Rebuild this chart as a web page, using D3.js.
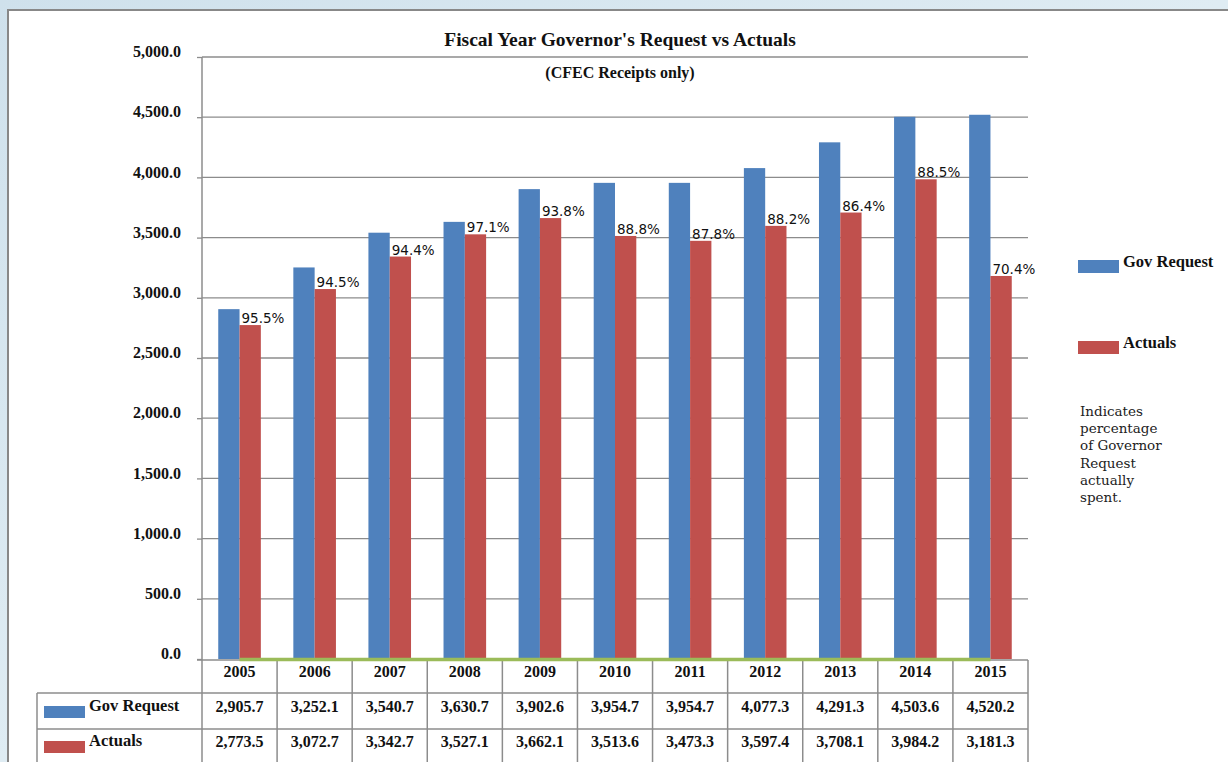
<!DOCTYPE html>
<html>
<head>
<meta charset="utf-8">
<script src="https://cdn.jsdelivr.net/npm/d3@7"></script>
<style>
  body { margin:0; padding:0; }
  svg { display:block; }
  .serif { font-family: "Liberation Serif", "DejaVu Serif", serif; font-weight:bold; fill:#111; }
</style>
</head>
<body>
<div id="chart"></div>
<script>
// values
const years = ["2005","2006","2007","2008","2009","2010","2011","2012","2013","2014","2015"];
const govRequest = [2905.7, 3252.1, 3540.7, 3630.7, 3902.6, 3954.7, 3954.7, 4077.3, 4291.3, 4503.6, 4520.2];
const actuals = [2773.5, 3072.7, 3342.7, 3527.1, 3662.1, 3513.6, 3473.3, 3597.4, 3708.1, 3984.2, 3181.3];
const pctLabels = ["95.5%","94.5%","94.4%","97.1%","93.8%","88.8%","87.8%","88.2%","86.4%","88.5%","70.4%"];
const yTicks = [0, 500, 1000, 1500, 2000, 2500, 3000, 3500, 4000, 4500, 5000];
const seriesNames = ["Gov Request", "Actuals"];
const colors = ["#4f81bd", "#c0504d"];
const noteLines = ["Indicates", "percentage", "of Governor", "Request", "actually", "spent."];

const W = 1228, H = 762;
const svg = d3.select("#chart").append("svg").attr("width", W).attr("height", H);

// light blue backdrop + white panel
const defs = svg.append("defs");
const grad = defs.append("linearGradient").attr("id","bg").attr("x1",0).attr("y1",0).attr("x2",1).attr("y2",1);
grad.append("stop").attr("offset","0%").attr("stop-color","#cfe1ec");
grad.append("stop").attr("offset","50%").attr("stop-color","#dfecf3");
grad.append("stop").attr("offset","100%").attr("stop-color","#d2e3ed");
svg.append("rect").attr("width", W).attr("height", H).attr("fill","url(#bg)");
svg.append("rect").attr("x", 8).attr("y", 10).attr("width", W).attr("height", H)
  .attr("fill","#fff").attr("stroke","#888").attr("stroke-width",2);

const plotL = 202, plotR = 1028, plotT = 57, zeroY = 659;
const x = d3.scaleBand().domain(years).range([plotL, plotR]).padding(0);
const y = d3.scaleLinear().domain([0, 5000]).range([zeroY, plotT]);
const barW = 21.3;
const xs = d3.scaleBand().domain(seriesNames)
  .range([x.bandwidth()/2 - barW, x.bandwidth()/2 + barW]);

// gridlines
svg.append("g").selectAll("line").data(yTicks.filter(d => d > 0)).enter().append("line")
  .attr("x1", plotL).attr("x2", plotR)
  .attr("y1", d => y(d)).attr("y2", d => y(d))
  .attr("stroke","#8c8c8c").attr("stroke-width",1.3);

// y axis
const gy = svg.append("g").attr("transform", `translate(${plotL},0)`)
  .call(d3.axisLeft(y).tickValues(yTicks).tickFormat(d3.format(",.1f"))
    .tickSizeInner(5).tickSizeOuter(0).tickPadding(16));
gy.select(".domain").remove();
gy.selectAll(".tick line").attr("stroke","#8c8c8c").attr("stroke-width",1.3);
gy.selectAll(".tick text").attr("class","serif").style("font-size","16px").attr("dy","-0.02em");
svg.append("line").attr("x1", plotL).attr("x2", plotL).attr("y1", plotT).attr("y2", H)
  .attr("stroke","#8c8c8c").attr("stroke-width",1.5);

// bars
const rows = years.map((yr, i) => ({ yr, vals: [govRequest[i], actuals[i]], pct: pctLabels[i] }));
const grp = svg.append("g").selectAll("g").data(rows).enter().append("g")
  .attr("transform", d => `translate(${x(d.yr)},0)`);
grp.selectAll("rect").data(d => d.vals.map((v, j) => ({ v, s: seriesNames[j], c: colors[j] })))
  .enter().append("rect")
  .attr("x", d => xs(d.s)).attr("width", xs.bandwidth())
  .attr("y", d => y(d.v)).attr("height", d => zeroY - y(d.v))
  .attr("fill", d => d.c);

// percentage labels over the actuals bars
grp.append("text")
  .attr("x", xs("Actuals") + 2)
  .attr("y", d => y(d.vals[1]) - 2)
  .style("font-family","'DejaVu Sans', sans-serif").style("font-size","13.5px").attr("fill","#111")
  .text(d => d.pct);

// data table under the axis
const tRows = [660, 693, 729, H];
const tb = svg.append("g").attr("stroke","#8c8c8c").attr("stroke-width",1.5);
tb.append("line").attr("x1", plotL - 5).attr("x2", plotR).attr("y1", tRows[0]).attr("y2", tRows[0]);
[tRows[1], tRows[2]].forEach(yy => tb.append("line").attr("x1", 37).attr("x2", plotR).attr("y1", yy).attr("y2", yy));
tb.append("line").attr("x1", 37).attr("x2", 37).attr("y1", tRows[1]).attr("y2", H);
years.slice(1).map(d => x(d)).concat([plotR]).forEach(xx => {
  tb.append("line").attr("x1", xx).attr("x2", xx).attr("y1", tRows[0]).attr("y2", H);
});

// percentage series drawn on the value axis (sits on zero)
const line = d3.line().x((d, i) => x(years[i]) + x.bandwidth()/2).y(d => y(d) + 0.5);
svg.append("path").datum(pctLabels.map(p => parseFloat(p) / 100))
  .attr("fill","none").attr("stroke","#9bbb59").attr("stroke-width",3.5).attr("d", line);

// title
svg.append("text").attr("class","serif").attr("x", 620).attr("y", 46).attr("text-anchor","middle")
  .style("font-size","19.5px").text("Fiscal Year Governor's Request vs Actuals");
svg.append("text").attr("class","serif").attr("x", 620).attr("y", 78).attr("text-anchor","middle")
  .style("font-size","16px").text("(CFEC Receipts only)");

// legend
const lg = svg.append("g").selectAll("g").data(seriesNames).enter().append("g")
  .attr("transform", (d, i) => `translate(1078,${260 + i * 81})`);
lg.append("rect").attr("width", 41).attr("height", 13).attr("fill", (d, i) => colors[i]);
lg.append("text").attr("class","serif").attr("x", 45).attr("y", 7).style("font-size","16.5px").text(d => d);

svg.append("g").selectAll("text").data(noteLines).enter().append("text")
  .attr("x", 1080).attr("y", (d, i) => 416 + i * 17.2)
  .style("font-family","'DejaVu Serif', serif").style("font-size","13.5px").attr("fill","#222")
  .text(d => d);

const tt = svg.append("g");
tt.selectAll(".yr").data(years).enter().append("text").attr("class","serif")
  .attr("x", d => x(d) + x.bandwidth()/2).attr("y", 677).attr("text-anchor","middle")
  .style("font-size","16px").text(d => d);
[govRequest, actuals].forEach((vals, r) => {
  const yy = [712, 747][r];
  tt.selectAll(".v" + r).data(vals).enter().append("text").attr("class","serif")
    .attr("x", (d, i) => x(years[i]) + x.bandwidth()/2).attr("y", yy).attr("text-anchor","middle")
    .style("font-size","16px").text(d => d3.format(",.1f")(d));
  tt.append("rect").attr("x", 44).attr("y", [706, 741][r]).attr("width", 41).attr("height", 12).attr("fill", colors[r]);
  tt.append("text").attr("class","serif").attr("x", 89).attr("y", [711, 746][r])
    .style("font-size","16.5px").text(seriesNames[r]);
});
</script>
</body>
</html>
